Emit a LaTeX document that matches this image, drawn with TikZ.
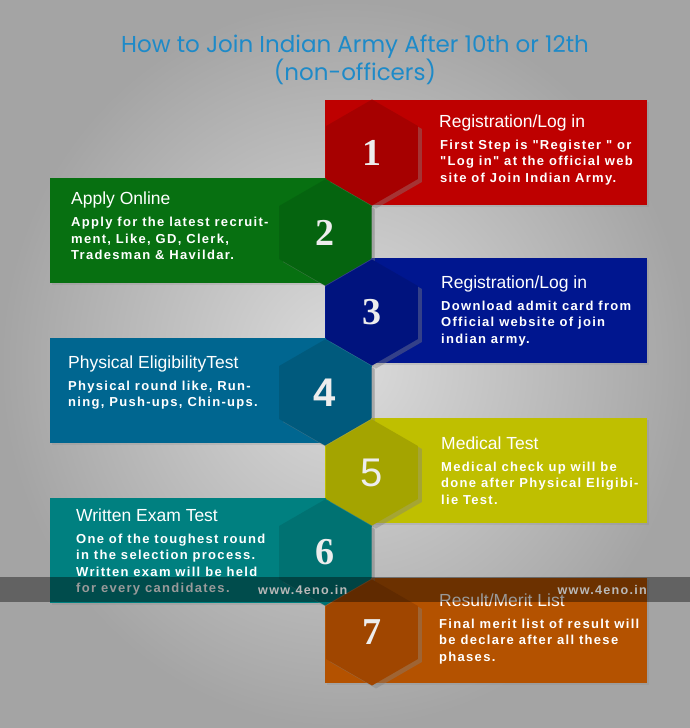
\documentclass[tikz,border=0pt]{standalone}
\usepackage{fontspec}
\setmainfont{Liberation Sans}
\newfontfamily\titlefont{Poppins}
\newfontfamily\numfont{Liberation Serif}
\newfontfamily\bodyfont[LetterSpace=10]{Liberation Sans}
\usetikzlibrary{shapes.geometric,shadows}

\definecolor{bgin}{HTML}{DCDCDC}
\definecolor{bgout}{HTML}{A4A4A4}
\definecolor{titleblue}{HTML}{1E8AC8}
\definecolor{redA}{HTML}{BE0000}\definecolor{redB}{HTML}{A60000}
\definecolor{greenA}{HTML}{077011}\definecolor{greenB}{HTML}{05640F}
\definecolor{navyA}{HTML}{00168F}\definecolor{navyB}{HTML}{00137E}
\definecolor{petrolA}{HTML}{006690}\definecolor{petrolB}{HTML}{005A7D}
\definecolor{oliveA}{HTML}{BFBF00}\definecolor{oliveB}{HTML}{A4A400}
\definecolor{tealA}{HTML}{008080}\definecolor{tealB}{HTML}{007272}
\definecolor{rustA}{HTML}{B45200}\definecolor{rustB}{HTML}{A04600}

\begin{document}
\begin{tikzpicture}[x=1pt,y=-1pt,
                    band/.style={minimum width=322pt,minimum height=105pt,inner sep=0pt,
                                 drop shadow={shadow xshift=2pt,shadow yshift=-2pt,opacity=.2}},
                    hexa/.style={regular polygon,regular polygon sides=6,shape border rotate=30,
                                 minimum size=106pt,inner sep=0pt,text=white!93!black,
                                 font=\numfont\bfseries\fontsize{38}{38}\selectfont,
                                 drop shadow={shadow xshift=4pt,shadow yshift=-3pt,opacity=.4}},
                    head/.style={anchor=base west,inner sep=0pt,text=white,
                                 font=\fontsize{17.5}{20}\selectfont},
                    body/.style={anchor=north west,inner sep=0pt,text=white,align=left,
                                 font=\bodyfont\bfseries\fontsize{13}{16.6}\selectfont},
                    wmark/.style={inner sep=0pt,text=white!72!black,
                                 font=\bodyfont\bfseries\fontsize{12.6}{13}\selectfont}]
 \useasboundingbox (0,0) rectangle (690,728);
 \shade[inner color=bgin,outer color=bgout] (0,0) rectangle (690,728);

 % title
 \node[text=titleblue,align=center,font=\titlefont\fontsize{23}{27}\selectfont] (title) at (355,60)
   {How to Join Indian Army After 10th or 12th\\(non-officers)};

 % coloured bands
 \node[band,fill=redA]    (r1) at (486,152.5) {};
 \node[band,fill=greenA]  (r2) at (211,230.5) {};
 \node[band,fill=navyA]   (r3) at (486,310.5) {};
 \node[band,fill=petrolA] (r4) at (211,390.5) {};
 \node[band,fill=oliveA]  (r5) at (486,470.5) {};
 \node[band,fill=tealA]   (r6) at (211,550.5) {};
 \node[band,fill=rustA]   (r7) at (486,630.5) {};

 % hexagons
 \node[hexa,fill=redB]    (h1) at (372,152.5) {1};
 \node[hexa,fill=greenB]  (h2) at (325,232.5) {2};
 \node[hexa,fill=navyB]   (h3) at (372,312.5) {3};
 \node[hexa,fill=petrolB,font=\bfseries\fontsize{40}{40}\selectfont] (h4) at (325,392.5) {4};
 \node[hexa,fill=oliveB,font=\fontsize{40}{40}\selectfont]  (h5) at (372,472.5) {5};
 \node[hexa,fill=tealB]   (h6) at (325,552.5) {6};
 \node[hexa,fill=rustB]   (h7) at (372,632.5) {7};

 % texts
 \node[head] (t1) at (439,127) {Registration/Log in};
 \node[body] (b1) at (440,139.5) {First Step is "Register " or\\"Log in" at the official web\\site of Join Indian Army.};
 \node[head] (t2) at (71,204) {Apply Online};
 \node[body] (b2) at (71,217) {Apply for the latest recruit-\\ment, Like, GD, Clerk,\\Tradesman \& Havildar.};
 \node[head] (t3) at (441,288) {Registration/Log in};
 \node[body] (b3) at (441,300.5) {Download admit card from\\Official website of join\\indian army.};
 \node[head] (t4) at (68,368) {Physical EligibilityTest};
 \node[body] (b4) at (68,380.5) {Physical round like, Run-\\ning, Push-ups, Chin-ups.};
 \node[head] (t5) at (441,449) {Medical Test};
 \node[body] (b5) at (441,461.5) {Medical check up will be\\done after Physical Eligibi-\\lie Test.};
 \node[head] (t6) at (76,521) {Written Exam Test};
 \node[body] (b6) at (76,533.5) {One of the toughest round\\in the selection process.\\Written exam will be held\\for every candidates.};
 \node[head] (t7) at (439,606) {Result/Merit List};
 \node[body] (b7) at (439,618.5) {Final merit list of result will\\be declare after all these\\phases.};

 % watermark strip
 \fill[black,opacity=.4] (0,577) rectangle (690,602);
 \node[wmark,anchor=base west] (m1) at (258,594) {www.4eno.in};
 \node[wmark,anchor=base east] (m2) at (647,594) {www.4eno.in};
\end{tikzpicture}
\end{document}
